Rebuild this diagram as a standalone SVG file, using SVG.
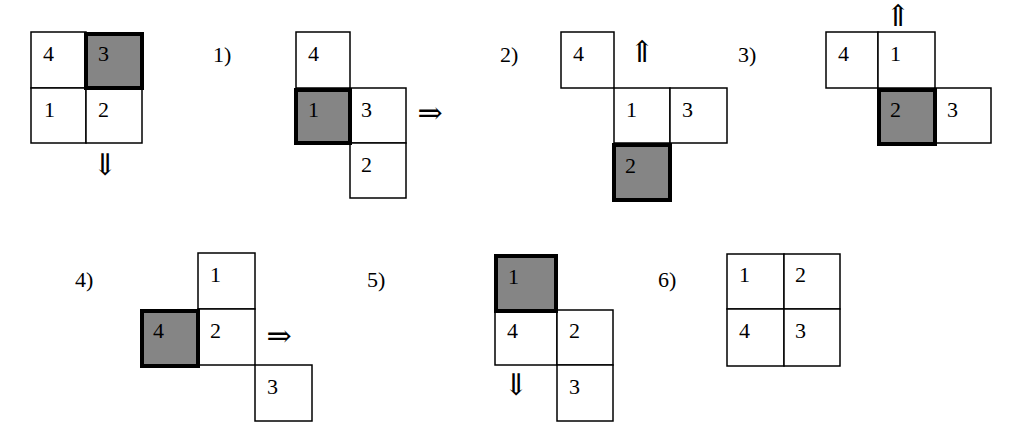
<svg xmlns="http://www.w3.org/2000/svg" width="1016" height="446" viewBox="0 0 1016 446">
<style>
.c{fill:#fff;stroke:#000;stroke-width:1.5}
.s{fill:#858585;stroke:#000;stroke-width:4}
.t{font-family:'Liberation Serif','Times New Roman',serif;font-size:22px;fill:#000}
.a{font-family:'DejaVu Serif','DejaVu Sans',serif;font-size:30px;fill:#000}
</style>
<rect width="1016" height="446" fill="#fff"/>
<g id="p0">
<rect class="c" x="31" y="32" width="55" height="56"/>
<rect class="c" x="31" y="88" width="55" height="55"/>
<rect class="c" x="86" y="88" width="56" height="55"/>
<rect class="s" x="86" y="34" width="56" height="54"/>
<g class="t" font-family="Liberation Serif" font-size="22">
<text x="43" y="61">4</text><text x="98" y="61">3</text>
<text x="44" y="117">1</text><text x="98" y="117">2</text>
</g>
<text class="a" x="105" y="175" text-anchor="middle">⇓</text>
</g>
<g id="p1">
<g class="t" font-family="Liberation Serif" font-size="22">
<text x="213" y="62">1)</text>
</g>
<rect class="c" x="296" y="32" width="54" height="56"/>
<rect class="c" x="350" y="88" width="56" height="55"/>
<rect class="c" x="350" y="143" width="56" height="55"/>
<rect class="s" x="296" y="90" width="54" height="53"/>
<g class="t" font-family="Liberation Serif" font-size="22">
<text x="308" y="61">4</text><text x="308" y="117">1</text>
<text x="361" y="117">3</text><text x="361" y="172">2</text>
</g>
<text class="a" x="430" y="123" text-anchor="middle">⇒</text>
</g>
<g id="p2">
<g class="t" font-family="Liberation Serif" font-size="22">
<text x="500" y="62">2)</text>
</g>
<rect class="c" x="561" y="32" width="53" height="56"/>
<rect class="c" x="614" y="88" width="56" height="55"/>
<rect class="c" x="670" y="88" width="57" height="55"/>
<rect class="s" x="614" y="145" width="56" height="55"/>
<g class="t" font-family="Liberation Serif" font-size="22">
<text x="573" y="61">4</text><text x="626" y="117">1</text>
<text x="682" y="117">3</text><text x="625" y="173">2</text>
</g>
<text class="a" x="642" y="62" text-anchor="middle">⇑</text>
</g>
<g id="p3">
<g class="t" font-family="Liberation Serif" font-size="22">
<text x="738" y="62">3)</text>
</g>
<rect class="c" x="826" y="32" width="52" height="56"/>
<rect class="c" x="878" y="32" width="57" height="56"/>
<rect class="c" x="935" y="88" width="56" height="55"/>
<rect class="s" x="879" y="90" width="56" height="54"/>
<g class="t" font-family="Liberation Serif" font-size="22">
<text x="838" y="61">4</text><text x="890" y="61">1</text>
<text x="890" y="117">2</text><text x="947" y="117">3</text>
</g>
<text class="a" x="898" y="26" text-anchor="middle">⇑</text>
</g>
<g id="p4">
<g class="t" font-family="Liberation Serif" font-size="22">
<text x="75" y="287">4)</text>
</g>
<rect class="c" x="198" y="253" width="57" height="56"/>
<rect class="c" x="198" y="309" width="57" height="56"/>
<rect class="c" x="255" y="365" width="57" height="56"/>
<rect class="s" x="142" y="311" width="56" height="55"/>
<g class="t" font-family="Liberation Serif" font-size="22">
<text x="210" y="282">1</text><text x="153" y="338">4</text>
<text x="210" y="338">2</text><text x="267" y="394">3</text>
</g>
<text class="a" x="279" y="346" text-anchor="middle">⇒</text>
</g>
<g id="p5">
<g class="t" font-family="Liberation Serif" font-size="22">
<text x="367" y="287">5)</text>
</g>
<rect class="c" x="495" y="311" width="62" height="54"/>
<rect class="c" x="557" y="310" width="56" height="55"/>
<rect class="c" x="557" y="365" width="56" height="56"/>
<rect class="s" x="496" y="256" width="60" height="55"/>
<g class="t" font-family="Liberation Serif" font-size="22">
<text x="508" y="284">1</text><text x="507" y="338">4</text>
<text x="569" y="338">2</text><text x="569" y="394">3</text>
</g>
<text class="a" x="516" y="395" text-anchor="middle">⇓</text>
</g>
<g id="p6">
<g class="t" font-family="Liberation Serif" font-size="22">
<text x="658" y="287">6)</text>
</g>
<rect class="c" x="727" y="254" width="57" height="55"/>
<rect class="c" x="784" y="254" width="56" height="55"/>
<rect class="c" x="727" y="309" width="57" height="57"/>
<rect class="c" x="784" y="309" width="56" height="57"/>
<g class="t" font-family="Liberation Serif" font-size="22">
<text x="739" y="282">1</text><text x="795" y="282">2</text>
<text x="739" y="338">4</text><text x="795" y="338">3</text>
</g>
</g>
<g id="connectors"></g>
</svg>
